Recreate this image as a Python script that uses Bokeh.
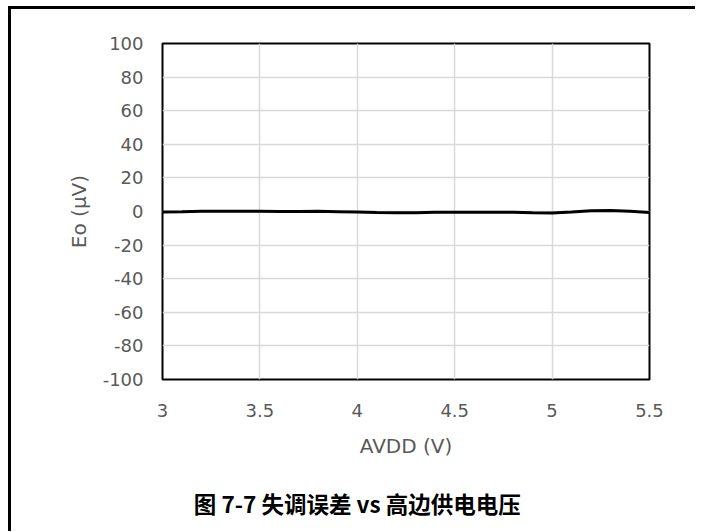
from bokeh.plotting import figure
from bokeh.layouts import column
from bokeh.models import FixedTicker, Range1d
from bokeh.core.properties import value
from bokeh.embed import file_html
from bokeh.resources import INLINE

# Data
avdd = [3.0, 3.1, 3.2, 3.3, 3.4, 3.5, 3.6, 3.7, 3.8, 3.9, 4.0, 4.1, 4.2,
        4.3, 4.4, 4.5, 4.6, 4.7, 4.8, 4.9, 5.0, 5.1, 5.2, 5.3, 5.4, 5.5]
eo_uv = [-0.3, -0.2, 0.1, 0.2, 0.2, 0.1, 0.0, 0.0, 0.1, -0.1, -0.3, -0.6, -0.8,
         -0.7, -0.5, -0.4, -0.4, -0.4, -0.5, -0.8, -0.9, -0.3, 0.4, 0.6, 0.1, -0.6]
x_ticks = [3, 3.5, 4, 4.5, 5, 5.5]
x_tick_labels = ["3", "3.5", "4", "4.5", "5", "5.5"]
y_ticks = [-100, -80, -60, -40, -20, 0, 20, 40, 60, 80, 100]
y_tick_labels = ["-100", "-80", "-60", "-40", "-20", "0", "20", "40", "60", "80", "100"]
x_label = "AVDD (V)"
y_label = "Eo (µV)"
caption = "图 7-7 失调误差 vs 高边供电电压"

p = figure(width=684, height=462, output_backend="svg", toolbar_location=None,
           x_range=Range1d(3, 5.5), y_range=Range1d(-100, 100),
           min_border_left=151, min_border_top=34, min_border_right=46,
           min_border_bottom=92)

p.line(avdd, eo_uv, line_color="black", line_width=3)

p.outline_line_color = "black"
p.outline_line_width = 2
p.background_fill_color = "white"
p.border_fill_color = "white"

for ax in (p.xaxis[0], p.yaxis[0]):
    ax.axis_line_color = None
    ax.major_tick_line_color = None
    ax.minor_tick_line_color = None
    ax.major_label_text_font = "DejaVu Sans"
    ax.major_label_text_font_size = "18px"
    ax.major_label_text_color = "#595959"
    ax.axis_label_text_font = "DejaVu Sans"
    ax.axis_label_text_font_size = "20px"
    ax.axis_label_text_font_style = "normal"
    ax.axis_label_text_color = "#595959"

p.xaxis.ticker = FixedTicker(ticks=x_ticks)
p.yaxis.ticker = FixedTicker(ticks=y_ticks)
p.xaxis.major_label_overrides = {t: s for t, s in zip(x_ticks, x_tick_labels)}
p.yaxis.major_label_overrides = {t: s for t, s in zip(y_ticks, y_tick_labels)}
p.xaxis.axis_label = x_label
p.yaxis.axis_label = y_label
p.xaxis.major_label_standoff = 18
p.yaxis.major_label_standoff = 13
p.xaxis.axis_label_standoff = 14
p.yaxis.axis_label_standoff = 9

p.xgrid.grid_line_color = "#d9d9d9"
p.ygrid.grid_line_color = "#d9d9d9"
p.xgrid.grid_line_width = 1.5
p.ygrid.grid_line_width = 1.5

# Caption strip (figure caption below the chart)
cap = figure(width=684, height=60, output_backend="svg", toolbar_location=None,
             x_range=Range1d(0, 684), y_range=Range1d(0, 60),
             min_border=0, x_axis_type=None, y_axis_type=None)
cap.outline_line_color = None
cap.xgrid.visible = False
cap.ygrid.visible = False
cap.background_fill_color = "white"
cap.border_fill_color = "white"
cap.text(x=[44], y=[29], text=[caption], text_font=value("Noto Sans CJK SC"),
         text_font_style="bold", text_font_size="22.5px", text_color="black",
         text_align="left", text_baseline="middle")

layout = column(p, cap, spacing=0)
layout.styles = {"border-top": "3px solid black", "border-left": "3px solid black",
                 "margin-top": "6px", "margin-left": "8px"}

open("out.html", "w").write(file_html(layout, INLINE))
